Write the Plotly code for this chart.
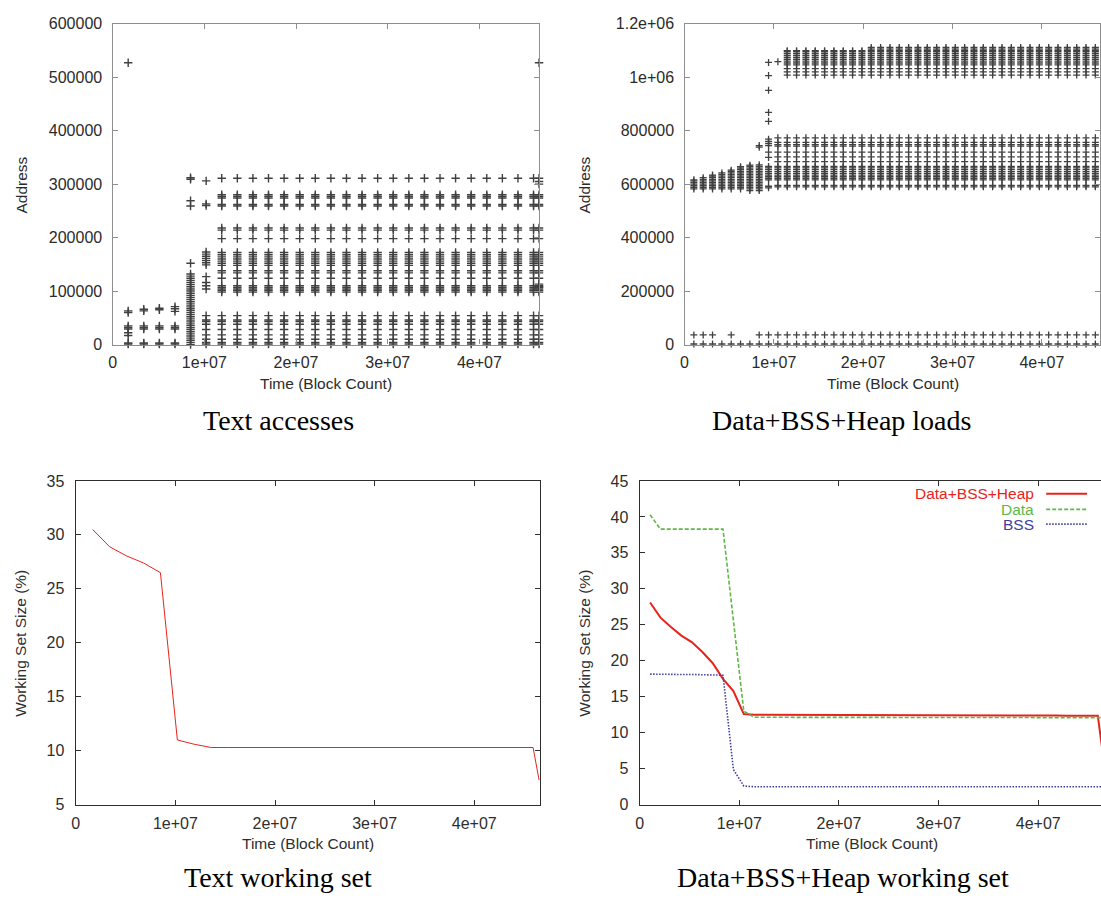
import plotly.graph_objects as go

# ---------------------------------------------------------------- data
# sample instants (block count) for the text-segment trace
text_times = [1.7e6, 3.4e6, 5.1e6, 6.8e6, 8.5e6, 10.2e6, 11.9e6, 13.6e6, 15.3e6,
              17.0e6, 18.7e6, 20.4e6, 22.1e6, 23.8e6, 25.5e6, 27.2e6, 28.9e6,
              30.6e6, 32.3e6, 34.0e6, 35.7e6, 37.4e6, 39.1e6, 40.8e6, 42.5e6,
              44.2e6, 45.9e6, 46.5e6]

# text addresses touched in each sample window
text_addr_c1 = [1000, 3000, 17000, 22000, 29000, 32000, 35000, 60000, 63000, 527000]
text_addr_c2 = [1000, 3000, 29000, 32000, 35000, 63000, 66000]
text_addr_c3 = [1000, 3000, 29000, 32000, 35000, 65000, 68000]
text_addr_c4 = [1000, 3000, 29000, 32000, 35000, 62000, 67000, 71000]
text_addr_c5 = [0, 4000, 8000, 12000, 16000, 20000, 24000, 28000, 32000, 36000,
                40000, 44000, 48000, 52000, 56000, 60000, 64000, 68000, 72000,
                76000, 80000, 84000, 88000, 92000, 96000, 100000, 104000, 108000,
                112000, 116000, 120000, 124000, 128000, 132000,
                152000, 259000, 269000, 309000, 312000]
text_addr_c6 = [1000, 4000, 10000, 18000, 28000, 38000, 43000, 46000, 54000,
                104000, 110000, 116000, 127000, 149000, 153000, 157000, 161000,
                165000, 169000, 173000, 260000, 263000, 306000]
text_addr_steady = [1000, 4000, 10000, 18000, 28000, 38000, 43000, 46000, 54000,
                    98000, 101000, 104000, 107000, 110000, 124000, 134000, 138000,
                    148000, 152000, 156000, 160000, 164000, 168000, 172000,
                    198000, 214000, 218000, 259000, 262000, 274000, 277000,
                    280000, 311000]
text_addr_last_extra = [108000, 113000, 300000, 305000, 527000]

# text working set (%) at the same instants
text_ws = [30.5, 28.9, 28.05, 27.4, 26.5, 11.0, 10.6, 10.3, 10.3, 10.3,
           10.3, 10.3, 10.3, 10.3, 10.3, 10.3, 10.3, 10.3, 10.3, 10.3,
           10.3, 10.3, 10.3, 10.3, 10.3, 10.3, 10.3, 7.3]

# sample instants for the data/bss/heap trace
data_times = [1.045e6, 2.09e6, 3.135e6, 4.18e6, 5.225e6, 6.27e6, 7.315e6, 8.36e6,
              9.405e6, 10.45e6, 11.495e6, 12.54e6, 13.585e6, 14.63e6, 15.675e6,
              16.72e6, 17.765e6, 18.81e6, 19.855e6, 20.9e6, 21.945e6, 22.99e6,
              24.035e6, 25.08e6, 26.125e6, 27.17e6, 28.215e6, 29.26e6, 30.305e6,
              31.35e6, 32.395e6, 33.44e6, 34.485e6, 35.53e6, 36.575e6, 37.62e6,
              38.665e6, 39.71e6, 40.755e6, 41.8e6, 42.845e6, 43.89e6, 44.935e6,
              45.98e6]

data_addr_c1 = [2000, 36000, 582000, 588000, 594000, 600000, 606000, 612000, 616000]
data_addr_c2 = [2000, 36000, 582000, 588000, 594000, 600000, 606000, 612000, 618000, 624000]
data_addr_c3 = [2000, 36000, 582000, 588000, 594000, 600000, 606000, 612000, 618000,
                624000, 630000, 634000]
data_addr_c4 = [2000, 582000, 588000, 594000, 600000, 606000, 612000, 618000, 624000,
                630000, 636000, 642000]
data_addr_c5 = [2000, 36000, 582000, 588000, 594000, 600000, 606000, 612000, 618000,
                624000, 630000, 636000, 642000, 648000, 652000]
data_addr_c6 = [2000, 582000, 588000, 594000, 600000, 606000, 612000, 618000, 624000,
                630000, 636000, 642000, 648000, 654000, 660000, 665000]
data_addr_c7 = [2000, 576000, 582000, 588000, 594000, 600000, 606000, 612000, 618000,
                624000, 630000, 636000, 642000, 648000, 654000, 660000, 666000, 671000]
data_addr_c8 = [2000, 36000, 576000, 582000, 588000, 594000, 600000, 606000, 612000,
                618000, 624000, 630000, 636000, 642000, 648000, 654000, 660000,
                666000, 672000, 738000, 744000]
data_addr_c9 = [2000, 36000, 586000, 592000, 616000, 622000, 628000, 634000, 640000,
                647000, 654000, 661000, 666000, 700000, 720000, 744000, 752000,
                760000, 768000, 835000, 868000, 951000, 1006000, 1055000]
data_addr_c10 = [2000, 36000, 590000, 595000, 616000, 622000, 628000, 634000, 640000,
                 647000, 654000, 661000, 666000, 684000, 702000, 720000, 742000,
                 748000, 756000, 773000, 1058000]
data_addr_steady = [2000, 36000, 590000, 595000, 616000, 622000, 628000, 634000,
                    640000, 647000, 654000, 661000, 666000, 684000, 702000, 720000,
                    742000, 748000, 756000, 773000, 1008000, 1020000, 1032000,
                    1046000, 1053000, 1060000, 1067000, 1074000, 1081000, 1088000,
                    1095000, 1099000]
data_addr_upper_extra = [1105000, 1111000]

# working set (%) per region
ws_times = data_times + [46.4e6]
ws_total = [28.1, 26.0, 24.7, 23.5, 22.6, 21.25, 19.7, 17.5, 15.8, 12.6,
            12.5, 12.5, 12.5, 12.5, 12.5, 12.5, 12.5, 12.5, 12.5, 12.5,
            12.45, 12.45, 12.45, 12.45, 12.45, 12.45, 12.45, 12.45, 12.45, 12.45,
            12.4, 12.4, 12.4, 12.4, 12.4, 12.4, 12.4, 12.4, 12.4, 12.4,
            12.35, 12.35, 12.35, 12.35, 8.0]
ws_data = [40.3, 38.3, 38.3, 38.3, 38.3, 38.3, 38.3, 38.3, 25.6, 13.0,
           12.15, 12.15, 12.15, 12.15, 12.15, 12.15, 12.15, 12.15, 12.15, 12.15,
           12.15, 12.15, 12.15, 12.15, 12.15, 12.15, 12.15, 12.15, 12.15, 12.15,
           12.15, 12.15, 12.15, 12.15, 12.15, 12.15, 12.15, 12.15, 12.15, 12.15,
           12.15, 12.15, 12.15, 12.15, 12.1]
ws_bss = [18.15, 18.1, 18.1, 18.1, 18.1, 18.05, 18.0, 18.0, 4.9, 2.6,
          2.5, 2.5, 2.5, 2.5, 2.5, 2.5, 2.5, 2.5, 2.5, 2.5,
          2.5, 2.5, 2.5, 2.5, 2.5, 2.5, 2.5, 2.5, 2.5, 2.5,
          2.5, 2.5, 2.5, 2.5, 2.5, 2.5, 2.5, 2.5, 2.5, 2.5,
          2.5, 2.5, 2.5, 2.5, 2.5]

x_tick_vals = [0, 1e7, 2e7, 3e7, 4e7]
x_tick_text = ["0", "1e+07", "2e+07", "3e+07", "4e+07"]
addr_tick_vals = [0, 100000, 200000, 300000, 400000, 500000, 600000]
addr_tick_text = ["0", "100000", "200000", "300000", "400000", "500000", "600000"]
load_tick_vals = [0, 200000, 400000, 600000, 800000, 1000000, 1200000]
load_tick_text = ["0", "200000", "400000", "600000", "800000", "1e+06", "1.2e+06"]
text_ws_ticks = [5, 10, 15, 20, 25, 30, 35]
data_ws_ticks = [0, 5, 10, 15, 20, 25, 30, 35, 40, 45]

captions = ["Text accesses", "Data+BSS+Heap loads",
            "Text working set", "Data+BSS+Heap working set"]

# ---------------------------------------------------------------- helpers
W, H = 1101, 903


def fx(p):
    return p / W


def fy(p):
    return 1 - p / H


def explode(times, columns):
    xs, ys = [], []
    for t, col in zip(times, columns):
        for a in col:
            xs.append(t)
            ys.append(a)
    return xs, ys


text_columns = ([text_addr_c1, text_addr_c2, text_addr_c3, text_addr_c4,
                 text_addr_c5, text_addr_c6] + [text_addr_steady] * 21
                + [text_addr_steady + text_addr_last_extra])
data_columns = ([data_addr_c1, data_addr_c2, data_addr_c3, data_addr_c4,
                 data_addr_c5, data_addr_c6, data_addr_c7, data_addr_c8,
                 data_addr_c9, data_addr_c10] + [data_addr_steady] * 9
                + [data_addr_steady + data_addr_upper_extra] * 25)

tx, ty = explode(text_times, text_columns)
dx, dy = explode(data_times, data_columns)

SANS = "Liberation Sans, Arial, Helvetica, sans-serif"
SERIF = "Liberation Serif, Times New Roman, serif"
RED = "#e8231c"
GREEN = "#5eb847"
BLUE = "#40409c"
POINT = "#404040"

text_marker = dict(symbol="cross-thin", size=6,
                   line=dict(width=1.4, color=POINT), color=POINT)
data_marker = dict(symbol="cross-thin", size=5,
                   line=dict(width=1.3, color=POINT), color=POINT)

fig = go.Figure()
fig.add_trace(go.Scatter(x=tx, y=ty, mode="markers", marker=text_marker,
                         cliponaxis=False, xaxis="x", yaxis="y", showlegend=False))
fig.add_trace(go.Scatter(x=dx, y=dy, mode="markers", marker=data_marker,
                         cliponaxis=False, xaxis="x2", yaxis="y2", showlegend=False))
fig.add_trace(go.Scatter(x=text_times, y=text_ws, mode="lines",
                         line=dict(color=RED, width=1),
                         xaxis="x3", yaxis="y3", showlegend=False))
fig.add_trace(go.Scatter(x=ws_times, y=ws_total, mode="lines",
                         line=dict(color=RED, width=2),
                         xaxis="x4", yaxis="y4", showlegend=False))
fig.add_trace(go.Scatter(x=ws_times, y=ws_data, mode="lines",
                         line=dict(color=GREEN, width=1.6, dash="4px,2px"),
                         xaxis="x4", yaxis="y4", showlegend=False))
fig.add_trace(go.Scatter(x=ws_times, y=ws_bss, mode="lines",
                         line=dict(color=BLUE, width=1.6, dash="1.5px,1.5px"),
                         xaxis="x4", yaxis="y4", showlegend=False))


def axis_style(line_color, text_color, **kw):
    d = dict(showline=True, linecolor=line_color, linewidth=1.4,
             mirror="allticks", ticks="inside", ticklen=5, tickwidth=1,
             tickcolor=line_color, showgrid=False, zeroline=False,
             tickfont=dict(family=SANS, size=16, color=text_color))
    d.update(kw)
    return d


TOP_LINE, TOP_TEXT = "#8e8e8e", "#2b2b2b"
BOT_LINE, BOT_TEXT = "#2e2e2e", "#2e2e2e"

fig.update_layout(
    width=W, height=H, margin=dict(l=0, r=0, t=0, b=0),
    paper_bgcolor="white", plot_bgcolor="white",
    xaxis=axis_style(TOP_LINE, TOP_TEXT, domain=[fx(109), fx(537)], range=[0, 4.65e7],
                     tickvals=x_tick_vals, ticktext=x_tick_text, anchor="y",
                     ticklabelstandoff=3),
    yaxis=axis_style(TOP_LINE, TOP_TEXT, domain=[fy(343), fy(16)], range=[0, 600000],
                     tickvals=addr_tick_vals, ticktext=addr_tick_text, anchor="x",
                     ticklabelstandoff=6),
    xaxis2=axis_style(TOP_LINE, TOP_TEXT, domain=[fx(683), fx(1100)], range=[0, 4.65e7],
                      tickvals=x_tick_vals, ticktext=x_tick_text, anchor="y2",
                      ticklabelstandoff=3),
    yaxis2=axis_style(TOP_LINE, TOP_TEXT, domain=[fy(343), fy(16)], range=[0, 1200000],
                      tickvals=load_tick_vals, ticktext=load_tick_text, anchor="x2",
                      ticklabelstandoff=6),
    xaxis3=axis_style(BOT_LINE, BOT_TEXT, domain=[fx(72), fx(538)], range=[0, 4.66e7],
                      tickvals=x_tick_vals, ticktext=x_tick_text, anchor="y3",
                      ticklabelstandoff=4),
    yaxis3=axis_style(BOT_LINE, BOT_TEXT, domain=[fy(812), fy(482)], range=[5, 35],
                      tickvals=text_ws_ticks, anchor="x3", ticklabelstandoff=7),
    xaxis4=axis_style(BOT_LINE, BOT_TEXT, domain=[fx(638), 1.0], range=[0, 4.63e7],
                      tickvals=x_tick_vals, ticktext=x_tick_text, anchor="y4",
                      ticklabelstandoff=4),
    yaxis4=axis_style(BOT_LINE, BOT_TEXT, domain=[fy(812), fy(482)], range=[0, 45],
                      tickvals=data_ws_ticks, anchor="x4", ticklabelstandoff=7,
                      mirror=False),
)

ann = []


def label(text, x, y, size=15.5, color="#2b2b2b", angle=0, family=SANS,
          xanchor="center"):
    ann.append(dict(text=text, x=fx(x), y=fy(y), xref="paper", yref="paper",
                    showarrow=False, textangle=angle, xanchor=xanchor,
                    yanchor="middle", font=dict(family=family, size=size, color=color)))


# axis titles
label("Time (Block Count)", 323, 383)
label("Address", 18, 180, angle=-90)
label("Time (Block Count)", 892, 383)
label("Address", 583, 180, angle=-90)
label("Time (Block Count)", 305, 852, color=BOT_TEXT)
label("Working Set Size (%)", 17, 647, angle=-90, color=BOT_TEXT)
label("Time (Block Count)", 871, 852, color=BOT_TEXT)
label("Working Set Size (%)", 583, 647, angle=-90, color=BOT_TEXT)

# panel captions
for cap, (cx, cy) in zip(captions, [(275, 420), (841, 420), (275, 886), (842, 886)]):
    label(cap, cx, cy, size=28, color="black", family=SERIF)

# key for the working-set panel
key_rows = [("Data+BSS+Heap", RED, "solid", 2, 495),
            ("Data", GREEN, "4px,2px", 1.6, 511),
            ("BSS", BLUE, "1.5px,1.5px", 1.6, 526)]
shapes = []
for name, col, dash, w, yy in key_rows:
    label(name, 1036, yy, color=col, xanchor="right")
    shapes.append(dict(type="line", xref="paper", yref="paper",
                       x0=fx(1046), x1=fx(1087), y0=fy(yy), y1=fy(yy),
                       line=dict(color=col, width=w, dash=dash)))

fig.update_layout(annotations=ann, shapes=shapes)
fig.write_html("out.html")
